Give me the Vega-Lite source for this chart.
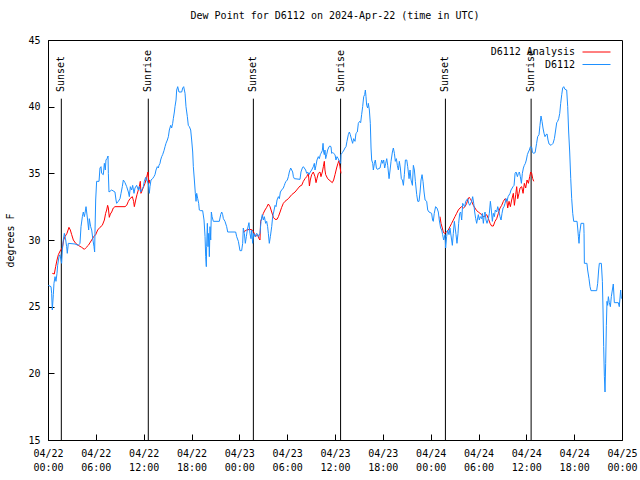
{
"$schema": "https://vega.github.io/schema/vega-lite/v6.json",
"width": 574, "height": 400,
"autosize": {"type": "none"},
"padding": {"left": 48, "top": 40, "right": 18, "bottom": 40},
"background": "white",
"config": {
 "font": "DejaVu Sans Mono",
 "view": {"stroke": "black", "strokeWidth": 1},
 "axis": {"grid": false, "domainColor": "black", "tickColor": "black", "labelColor": "black", "titleColor": "black", "labelFont": "DejaVu Sans Mono", "titleFont": "DejaVu Sans Mono", "labelFontSize": 10, "titleFontSize": 10, "titleFontWeight": "normal", "labelLineHeight": 14},
 "legend": {"orient": "none", "legendX": 534, "symbolType": "stroke", "symbolSize": 784, "symbolStrokeWidth": 1, "labelAlign": "right", "labelOffset": -36, "labelFontSize": 10, "labelFont": "DejaVu Sans Mono", "labelColor": "black", "padding": 0}
},
"title": {"text": "Dew Point for D6112 on 2024-Apr-22 (time in UTC)", "font": "DejaVu Sans Mono", "fontSize": 10, "fontWeight": "normal", "color": "black", "offset": 14, "anchor": "middle"},
"datasets": {
 "sun": [
  {"h": 1.67, "label": "Sunset"}, {"h": 12.58, "label": "Sunrise"},
  {"h": 25.76, "label": "Sunset"}, {"h": 36.7, "label": "Sunrise"},
  {"h": 49.85, "label": "Sunset"}, {"h": 60.6, "label": "Sunrise"}
 ],
 "analysis": [
  {"s":1,"h":0.54,"v":27.5},{"s":1,"h":0.79,"v":27.45},{"s":1,"h":0.96,"v":28.0},{"s":1,"h":1.13,"v":28.5},{"s":1,"h":1.3,"v":28.9},{"s":1,"h":1.46,"v":29.1},{"s":1,"h":1.63,"v":29.3},{"s":1,"h":1.8,"v":29.4},{"s":1,"h":1.96,"v":30.0},{"s":1,"h":2.13,"v":30.25},{"s":1,"h":2.38,"v":30.5},{"s":1,"h":2.63,"v":30.95},{"s":1,"h":2.8,"v":30.75},{"s":1,"h":2.97,"v":30.4},{"s":1,"h":3.18,"v":30.0},{"s":1,"h":3.47,"v":29.75},{"s":1,"h":3.8,"v":29.6},{"s":1,"h":4.22,"v":29.45},{"s":1,"h":4.56,"v":29.3},{"s":1,"h":4.72,"v":29.4},{"s":1,"h":5.06,"v":29.6},{"s":1,"h":5.48,"v":30.0},{"s":1,"h":5.73,"v":30.25},{"s":1,"h":5.98,"v":30.4},{"s":1,"h":6.23,"v":30.75},{"s":1,"h":6.52,"v":30.95},{"s":1,"h":6.81,"v":31.1},{"s":1,"h":7.07,"v":31.5},{"s":1,"h":7.23,"v":32.0},{"s":1,"h":7.36,"v":32.25},{"s":1,"h":7.48,"v":32.6},{"s":1,"h":7.57,"v":32.4},{"s":1,"h":7.69,"v":31.7},{"s":1,"h":7.82,"v":31.95},{"s":1,"h":7.99,"v":32.1},{"s":1,"h":8.19,"v":32.4},{"s":1,"h":8.4,"v":32.5},{"s":1,"h":9.66,"v":32.5},{"s":1,"h":9.87,"v":32.6},{"s":1,"h":10.08,"v":32.9},{"s":1,"h":10.28,"v":33.1},{"s":1,"h":10.58,"v":33.25},{"s":1,"h":10.74,"v":32.9},{"s":1,"h":10.83,"v":32.5},{"s":1,"h":11.0,"v":33.0},{"s":1,"h":11.16,"v":33.4},{"s":1,"h":11.33,"v":33.75},{"s":1,"h":11.45,"v":34.0},{"s":1,"h":11.58,"v":34.4},{"s":1,"h":11.66,"v":33.5},{"s":1,"h":11.83,"v":33.75},{"s":1,"h":12.0,"v":34.0},{"s":1,"h":12.17,"v":34.25},{"s":1,"h":12.37,"v":34.7},{"s":1,"h":12.54,"v":35.1},{"s":1,"h":12.67,"v":34.25},{"s":1,"h":12.75,"v":34.5},
  {"s":2,"h":24.5,"v":30.6},{"s":2,"h":24.92,"v":30.75},{"s":2,"h":25.33,"v":30.8},{"s":2,"h":25.63,"v":30.75},{"s":2,"h":25.88,"v":30.5},{"s":2,"h":26.05,"v":30.25},{"s":2,"h":26.3,"v":30.4},{"s":2,"h":26.47,"v":30.1},{"s":2,"h":26.59,"v":30.0},{"s":2,"h":26.67,"v":31.4},{"s":2,"h":26.8,"v":31.6},{"s":2,"h":27.01,"v":32.0},{"s":2,"h":27.22,"v":32.25},{"s":2,"h":27.43,"v":32.45},{"s":2,"h":27.64,"v":32.7},{"s":2,"h":27.85,"v":32.5},{"s":2,"h":28.06,"v":32.1},{"s":2,"h":28.27,"v":31.7},{"s":2,"h":28.48,"v":31.55},{"s":2,"h":28.73,"v":31.55},{"s":2,"h":28.9,"v":31.75},{"s":2,"h":29.11,"v":32.1},{"s":2,"h":29.31,"v":32.45},{"s":2,"h":29.52,"v":32.75},{"s":2,"h":29.73,"v":32.9},{"s":2,"h":30.15,"v":33.1},{"s":2,"h":30.57,"v":33.4},{"s":2,"h":30.99,"v":33.6},{"s":2,"h":31.4,"v":33.9},{"s":2,"h":31.61,"v":34.05},{"s":2,"h":31.82,"v":34.1},{"s":2,"h":32.03,"v":34.4},{"s":2,"h":32.24,"v":34.6},{"s":2,"h":32.45,"v":34.75},{"s":2,"h":32.66,"v":35.0},{"s":2,"h":32.79,"v":34.05},{"s":2,"h":32.9,"v":34.5},{"s":2,"h":33.07,"v":34.9},{"s":2,"h":33.28,"v":35.1},{"s":2,"h":33.49,"v":34.75},{"s":2,"h":33.62,"v":34.3},{"s":2,"h":33.74,"v":34.6},{"s":2,"h":33.91,"v":35.0},{"s":2,"h":34.12,"v":35.1},{"s":2,"h":34.24,"v":34.75},{"s":2,"h":34.41,"v":35.1},{"s":2,"h":34.54,"v":35.5},{"s":2,"h":34.66,"v":35.9},{"s":2,"h":34.74,"v":35.25},{"s":2,"h":34.83,"v":34.9},{"s":2,"h":35.08,"v":34.6},{"s":2,"h":35.37,"v":34.45},{"s":2,"h":35.66,"v":34.3},{"s":2,"h":35.83,"v":34.5},{"s":2,"h":36.0,"v":34.9},{"s":2,"h":36.2,"v":35.4},{"s":2,"h":36.37,"v":35.75},{"s":2,"h":36.5,"v":35.95},{"s":2,"h":36.62,"v":35.5},{"s":2,"h":36.75,"v":35.0},
  {"s":3,"h":49.17,"v":31.75},{"s":3,"h":49.3,"v":31.25},{"s":3,"h":49.46,"v":30.9},{"s":3,"h":49.59,"v":30.6},{"s":3,"h":49.71,"v":30.5},{"s":3,"h":50.0,"v":30.6},{"s":3,"h":50.21,"v":30.75},{"s":3,"h":50.42,"v":31.0},{"s":3,"h":50.63,"v":31.25},{"s":3,"h":50.84,"v":31.5},{"s":3,"h":51.05,"v":31.75},{"s":3,"h":51.26,"v":32.0},{"s":3,"h":51.47,"v":32.25},{"s":3,"h":51.68,"v":32.4},{"s":3,"h":51.89,"v":32.5},{"s":3,"h":52.1,"v":32.4},{"s":3,"h":52.31,"v":32.5},{"s":3,"h":52.52,"v":32.75},{"s":3,"h":52.64,"v":33.0},{"s":3,"h":52.81,"v":33.2},{"s":3,"h":52.98,"v":33.1},{"s":3,"h":53.14,"v":32.9},{"s":3,"h":53.35,"v":32.6},{"s":3,"h":53.56,"v":32.4},{"s":3,"h":53.77,"v":32.2},{"s":3,"h":53.98,"v":32.1},{"s":3,"h":54.19,"v":32.0},{"s":3,"h":54.4,"v":31.9},{"s":3,"h":54.61,"v":31.75},{"s":3,"h":54.82,"v":31.8},{"s":3,"h":55.03,"v":31.9},{"s":3,"h":55.24,"v":31.6},{"s":3,"h":55.45,"v":31.25},{"s":3,"h":55.65,"v":31.05},{"s":3,"h":55.86,"v":31.05},{"s":3,"h":56.07,"v":31.4},{"s":3,"h":56.28,"v":31.6},{"s":3,"h":56.49,"v":32.0},{"s":3,"h":56.7,"v":32.4},{"s":3,"h":56.91,"v":32.6},{"s":3,"h":57.12,"v":32.9},{"s":3,"h":57.33,"v":33.1},{"s":3,"h":57.54,"v":33.0},{"s":3,"h":57.66,"v":32.4},{"s":3,"h":57.83,"v":32.9},{"s":3,"h":58.0,"v":32.5},{"s":3,"h":58.16,"v":33.0},{"s":3,"h":58.37,"v":33.5},{"s":3,"h":58.5,"v":32.6},{"s":3,"h":58.67,"v":33.4},{"s":3,"h":58.79,"v":34.0},{"s":3,"h":58.92,"v":33.1},{"s":3,"h":59.08,"v":33.5},{"s":3,"h":59.21,"v":33.9},{"s":3,"h":59.42,"v":34.0},{"s":3,"h":59.59,"v":33.5},{"s":3,"h":59.75,"v":34.25},{"s":3,"h":59.92,"v":33.9},{"s":3,"h":60.09,"v":34.5},{"s":3,"h":60.26,"v":34.25},{"s":3,"h":60.42,"v":34.75},{"s":3,"h":60.55,"v":35.1},{"s":3,"h":60.67,"v":35.0},{"s":3,"h":60.8,"v":34.6},{"s":3,"h":60.93,"v":34.4}
 ],
 "obs": [
  {"h":0.04,"v":26.6},{"h":0.38,"v":26.5},{"h":0.46,"v":26.0},{"h":0.54,"v":24.75},{"h":0.67,"v":25.9},{"h":0.75,"v":26.75},{"h":0.88,"v":27.25},{"h":1.0,"v":26.9},{"h":1.13,"v":27.5},{"h":1.21,"v":28.1},{"h":1.38,"v":28.75},{"h":1.5,"v":28.9},{"h":1.71,"v":28.25},{"h":1.8,"v":29.25},{"h":1.92,"v":30.0},{"h":2.05,"v":30.5},{"h":2.22,"v":30.0},{"h":2.34,"v":29.5},{"h":2.42,"v":29.0},{"h":2.55,"v":29.75},{"h":3.39,"v":29.7},{"h":3.8,"v":29.6},{"h":4.01,"v":29.75},{"h":4.14,"v":31.0},{"h":4.31,"v":31.75},{"h":4.43,"v":32.1},{"h":4.56,"v":31.75},{"h":4.64,"v":32.0},{"h":4.77,"v":32.5},{"h":4.85,"v":32.1},{"h":4.97,"v":31.5},{"h":5.1,"v":30.75},{"h":5.18,"v":31.6},{"h":5.35,"v":31.0},{"h":5.48,"v":30.75},{"h":5.64,"v":30.0},{"h":5.77,"v":29.5},{"h":5.85,"v":29.1},{"h":5.89,"v":30.5},{"h":5.98,"v":33.0},{"h":6.1,"v":34.4},{"h":6.4,"v":34.4},{"h":6.52,"v":35.4},{"h":6.65,"v":35.5},{"h":6.73,"v":35.0},{"h":6.94,"v":34.9},{"h":7.07,"v":35.75},{"h":7.19,"v":35.25},{"h":7.27,"v":36.0},{"h":7.4,"v":36.1},{"h":7.53,"v":36.3},{"h":7.57,"v":35.0},{"h":7.65,"v":33.6},{"h":7.99,"v":33.75},{"h":8.4,"v":33.6},{"h":8.53,"v":33.0},{"h":8.61,"v":32.75},{"h":8.82,"v":32.9},{"h":9.03,"v":33.1},{"h":9.16,"v":33.5},{"h":9.32,"v":34.0},{"h":9.45,"v":34.5},{"h":9.66,"v":34.3},{"h":9.87,"v":34.0},{"h":10.08,"v":33.6},{"h":10.2,"v":33.25},{"h":10.33,"v":34.0},{"h":10.49,"v":33.75},{"h":10.62,"v":34.1},{"h":10.79,"v":33.5},{"h":10.91,"v":33.9},{"h":11.12,"v":34.1},{"h":11.33,"v":33.75},{"h":11.45,"v":34.0},{"h":11.62,"v":33.6},{"h":11.75,"v":33.75},{"h":11.96,"v":34.0},{"h":12.08,"v":34.4},{"h":12.25,"v":34.7},{"h":12.37,"v":34.5},{"h":12.58,"v":34.25},
  {"h":12.71,"v":33.5},{"h":12.79,"v":34.0},{"h":12.92,"v":34.5},{"h":13.12,"v":34.6},{"h":13.29,"v":34.75},{"h":13.42,"v":34.9},{"h":13.55,"v":35.25},{"h":13.71,"v":35.5},{"h":13.84,"v":35.4},{"h":13.92,"v":35.6},{"h":14.05,"v":35.75},{"h":14.13,"v":36.0},{"h":14.26,"v":36.25},{"h":14.38,"v":36.4},{"h":14.55,"v":36.7},{"h":14.68,"v":37.0},{"h":14.8,"v":37.25},{"h":14.97,"v":37.5},{"h":15.1,"v":37.75},{"h":15.22,"v":38.25},{"h":15.39,"v":38.6},{"h":15.51,"v":38.4},{"h":15.64,"v":38.75},{"h":15.72,"v":39.1},{"h":15.85,"v":39.6},{"h":15.93,"v":40.0},{"h":16.06,"v":40.5},{"h":16.14,"v":41.25},{"h":16.27,"v":41.5},{"h":16.43,"v":41.1},{"h":16.77,"v":41.1},{"h":16.9,"v":41.4},{"h":17.02,"v":41.5},{"h":17.19,"v":41.0},{"h":17.31,"v":40.0},{"h":17.48,"v":39.25},{"h":17.6,"v":38.6},{"h":17.73,"v":38.5},{"h":17.9,"v":38.25},{"h":18.02,"v":37.5},{"h":18.15,"v":36.6},{"h":18.23,"v":35.5},{"h":18.36,"v":34.5},{"h":18.48,"v":33.5},{"h":18.57,"v":32.9},{"h":18.65,"v":33.5},{"h":18.78,"v":33.1},{"h":18.9,"v":32.75},{"h":18.98,"v":32.25},{"h":19.15,"v":32.2},{"h":19.4,"v":32.2},{"h":19.57,"v":31.5},{"h":19.7,"v":30.25},{"h":19.78,"v":28.75},{"h":19.86,"v":28.0},{"h":19.9,"v":29.5},{"h":19.99,"v":31.25},{"h":20.07,"v":29.5},{"h":20.16,"v":30.5},{"h":20.24,"v":28.75},{"h":20.32,"v":31.0},{"h":20.41,"v":30.0},{"h":20.49,"v":32.1},{"h":20.58,"v":31.75},{"h":20.74,"v":31.4},{"h":21.49,"v":31.4},{"h":21.66,"v":31.9},{"h":21.79,"v":32.1},{"h":21.91,"v":31.9},{"h":22.0,"v":31.6},{"h":22.2,"v":31.4},{"h":22.41,"v":31.0},{"h":22.54,"v":30.6},{"h":23.54,"v":30.6},{"h":23.67,"v":30.25},
  {"h":23.88,"v":29.9},{"h":24.08,"v":29.2},{"h":24.29,"v":29.2},{"h":24.42,"v":29.75},{"h":24.5,"v":30.9},{"h":24.63,"v":30.5},{"h":24.75,"v":29.75},{"h":24.88,"v":30.25},{"h":25.0,"v":30.75},{"h":25.21,"v":31.3},{"h":25.33,"v":30.5},{"h":25.46,"v":30.1},{"h":25.55,"v":30.75},{"h":25.67,"v":29.75},{"h":25.8,"v":30.5},{"h":25.97,"v":30.25},{"h":26.18,"v":30.5},{"h":26.38,"v":30.25},{"h":26.59,"v":30.5},{"h":26.72,"v":31.4},{"h":26.88,"v":31.9},{"h":27.01,"v":31.5},{"h":27.14,"v":31.75},{"h":27.3,"v":31.25},{"h":27.43,"v":31.4},{"h":27.55,"v":31.0},{"h":27.64,"v":30.5},{"h":27.76,"v":29.75},{"h":27.89,"v":30.25},{"h":28.06,"v":31.0},{"h":28.18,"v":31.75},{"h":28.31,"v":32.1},{"h":28.48,"v":32.6},{"h":28.6,"v":32.5},{"h":28.73,"v":33.0},{"h":28.9,"v":33.25},{"h":29.02,"v":33.1},{"h":29.15,"v":33.6},{"h":29.31,"v":33.75},{"h":29.52,"v":33.9},{"h":29.65,"v":34.1},{"h":29.73,"v":34.25},{"h":29.86,"v":34.4},{"h":30.02,"v":34.5},{"h":30.15,"v":34.75},{"h":30.27,"v":35.1},{"h":30.44,"v":35.4},{"h":30.57,"v":35.25},{"h":30.69,"v":35.1},{"h":30.78,"v":34.75},{"h":30.9,"v":34.6},{"h":31.61,"v":34.55},{"h":31.73,"v":35.1},{"h":31.9,"v":35.4},{"h":32.03,"v":35.5},{"h":32.15,"v":35.4},{"h":32.32,"v":35.25},{"h":32.45,"v":35.0},{"h":32.57,"v":35.1},{"h":32.74,"v":34.9},{"h":32.9,"v":35.1},{"h":33.07,"v":35.25},{"h":33.28,"v":35.5},{"h":33.41,"v":35.75},{"h":33.49,"v":35.25},{"h":33.62,"v":35.6},{"h":33.74,"v":36.0},{"h":33.91,"v":36.25},{"h":34.03,"v":36.1},{"h":34.16,"v":36.4},{"h":34.24,"v":36.5},{"h":34.41,"v":36.7},{"h":34.5,"v":37.25},{"h":34.58,"v":36.6},{"h":34.66,"v":36.4},{"h":34.74,"v":36.75},{"h":34.83,"v":36.1},{"h":34.95,"v":36.4},{"h":35.08,"v":36.75},{"h":35.25,"v":37.0},{"h":35.37,"v":37.05},{"h":35.5,"v":37.0},{"h":35.58,"v":36.5},{"h":35.7,"v":36.55},{"h":35.83,"v":36.5},{"h":36.0,"v":36.4},{"h":36.12,"v":36.0},{"h":36.25,"v":36.25},{"h":36.41,"v":36.1},{"h":36.54,"v":35.9},{"h":36.71,"v":35.75},
  {"h":36.75,"v":36.4},{"h":36.92,"v":36.55},{"h":37.13,"v":36.75},{"h":37.25,"v":36.9},{"h":37.38,"v":37.0},{"h":37.5,"v":37.4},{"h":37.67,"v":37.9},{"h":37.8,"v":38.1},{"h":37.92,"v":37.9},{"h":38.09,"v":37.5},{"h":38.21,"v":37.25},{"h":38.34,"v":37.6},{"h":38.51,"v":37.4},{"h":38.63,"v":38.0},{"h":38.8,"v":38.1},{"h":38.93,"v":38.75},{"h":39.09,"v":38.9},{"h":39.22,"v":38.8},{"h":39.34,"v":39.4},{"h":39.47,"v":40.0},{"h":39.6,"v":40.75},{"h":39.72,"v":40.9},{"h":39.81,"v":41.25},{"h":39.89,"v":40.75},{"h":39.97,"v":40.1},{"h":40.1,"v":39.9},{"h":40.18,"v":40.25},{"h":40.31,"v":39.75},{"h":40.43,"v":38.75},{"h":40.52,"v":36.9},{"h":40.6,"v":36.0},{"h":40.73,"v":35.75},{"h":40.81,"v":35.25},{"h":40.94,"v":35.75},{"h":41.06,"v":36.0},{"h":41.19,"v":35.4},{"h":41.31,"v":35.3},{"h":41.65,"v":35.4},{"h":41.86,"v":36.0},{"h":41.98,"v":35.75},{"h":42.11,"v":36.0},{"h":42.23,"v":35.4},{"h":42.36,"v":35.75},{"h":42.49,"v":36.1},{"h":42.61,"v":35.6},{"h":42.78,"v":34.6},{"h":42.91,"v":35.25},{"h":43.03,"v":35.9},{"h":43.2,"v":36.6},{"h":43.32,"v":36.9},{"h":43.45,"v":36.5},{"h":43.57,"v":35.9},{"h":43.7,"v":36.1},{"h":43.82,"v":35.6},{"h":43.95,"v":35.25},{"h":44.07,"v":35.9},{"h":44.2,"v":35.4},{"h":44.32,"v":34.6},{"h":44.45,"v":34.5},{"h":44.58,"v":34.1},{"h":44.7,"v":34.9},{"h":44.83,"v":36.0},{"h":45.0,"v":36.0},{"h":45.12,"v":35.5},{"h":45.29,"v":34.6},{"h":45.41,"v":35.25},{"h":45.54,"v":34.5},{"h":45.71,"v":34.1},{"h":45.83,"v":35.6},{"h":45.96,"v":35.25},{"h":46.08,"v":34.4},{"h":46.25,"v":33.4},{"h":46.38,"v":32.9},{"h":46.54,"v":32.9},{"h":46.67,"v":33.6},{"h":46.79,"v":34.5},{"h":46.92,"v":34.9},{"h":47.04,"v":34.4},{"h":47.17,"v":33.6},{"h":47.3,"v":33.0},
  {"h":47.5,"v":32.9},{"h":47.63,"v":32.25},{"h":47.79,"v":32.1},{"h":48.12,"v":32.0},{"h":48.24,"v":31.5},{"h":48.33,"v":31.4},{"h":48.45,"v":32.0},{"h":48.62,"v":32.5},{"h":48.79,"v":32.4},{"h":48.96,"v":32.1},{"h":49.08,"v":31.5},{"h":49.25,"v":30.9},{"h":49.38,"v":30.75},{"h":49.5,"v":30.4},{"h":49.63,"v":30.0},{"h":49.8,"v":30.4},{"h":49.88,"v":29.4},{"h":50.0,"v":30.25},{"h":50.13,"v":30.75},{"h":50.3,"v":30.4},{"h":50.42,"v":30.9},{"h":50.63,"v":30.0},{"h":50.72,"v":29.6},{"h":50.84,"v":30.5},{"h":50.97,"v":31.4},{"h":51.18,"v":30.4},{"h":51.3,"v":29.75},{"h":51.43,"v":30.5},{"h":51.51,"v":31.25},{"h":51.64,"v":32.0},{"h":51.76,"v":32.1},{"h":51.89,"v":31.5},{"h":52.02,"v":32.75},{"h":52.14,"v":32.6},{"h":52.27,"v":32.5},{"h":52.39,"v":32.9},{"h":52.52,"v":33.0},{"h":52.64,"v":33.1},{"h":52.77,"v":32.75},{"h":52.9,"v":32.6},{"h":53.14,"v":32.9},{"h":53.27,"v":33.25},{"h":53.4,"v":32.75},{"h":53.52,"v":32.1},{"h":53.65,"v":31.6},{"h":53.77,"v":31.25},{"h":53.98,"v":31.9},{"h":54.1,"v":31.5},{"h":54.23,"v":31.75},{"h":54.4,"v":31.6},{"h":54.48,"v":32.0},{"h":54.61,"v":31.25},{"h":54.73,"v":31.9},{"h":54.82,"v":32.1},{"h":54.94,"v":31.5},{"h":55.07,"v":31.25},{"h":55.24,"v":31.6},{"h":55.36,"v":32.0},{"h":55.49,"v":32.9},{"h":55.61,"v":32.25},{"h":55.74,"v":31.4},{"h":55.86,"v":32.0},{"h":55.99,"v":31.75},{"h":56.11,"v":32.25},{"h":56.28,"v":32.1},{"h":56.41,"v":32.5},{"h":56.53,"v":32.25},{"h":56.7,"v":31.75},{"h":56.83,"v":31.5},{"h":56.95,"v":32.0},{"h":57.08,"v":32.4},{"h":57.2,"v":32.5},{"h":57.33,"v":32.75},{"h":57.46,"v":33.1},{"h":57.58,"v":32.9},{"h":57.71,"v":33.25},{"h":57.96,"v":33.5},{"h":58.08,"v":33.75},{"h":58.33,"v":34.0},{"h":58.46,"v":34.1},{"h":58.59,"v":35.0},{"h":58.71,"v":35.1},{"h":58.88,"v":34.75},{"h":59.0,"v":35.0},{"h":59.13,"v":35.1},{"h":59.25,"v":34.75},{"h":59.38,"v":34.25},{"h":59.5,"v":35.0},{"h":59.63,"v":35.4},{"h":59.75,"v":35.6},{"h":59.88,"v":35.75},{"h":60.0,"v":36.0},{"h":60.13,"v":36.4},{"h":60.26,"v":36.6},{"h":60.38,"v":36.75},{"h":60.51,"v":37.0},{"h":60.68,"v":36.95},{"h":60.76,"v":36.6},{"h":60.89,"v":36.5},{"h":61.1,"v":36.55},
  {"h":61.29,"v":37.25},{"h":61.42,"v":37.75},{"h":61.59,"v":37.9},{"h":61.71,"v":38.6},{"h":61.84,"v":39.3},{"h":61.97,"v":38.9},{"h":62.09,"v":38.4},{"h":62.22,"v":38.0},{"h":62.34,"v":37.75},{"h":62.47,"v":37.9},{"h":62.6,"v":37.95},{"h":62.72,"v":37.5},{"h":62.85,"v":37.2},{"h":63.1,"v":37.1},{"h":63.35,"v":37.25},{"h":63.52,"v":37.6},{"h":63.68,"v":38.25},{"h":63.81,"v":38.8},{"h":63.93,"v":38.9},{"h":64.06,"v":39.1},{"h":64.19,"v":39.5},{"h":64.31,"v":40.25},{"h":64.44,"v":40.9},{"h":64.56,"v":41.4},{"h":64.69,"v":41.5},{"h":64.85,"v":41.3},{"h":65.06,"v":41.25},{"h":65.19,"v":40.0},{"h":65.31,"v":38.1},{"h":65.44,"v":36.6},{"h":65.57,"v":34.6},{"h":65.69,"v":33.1},{"h":65.82,"v":32.0},{"h":65.94,"v":31.4},{"h":66.36,"v":31.4},{"h":66.44,"v":30.9},{"h":66.53,"v":30.25},{"h":66.61,"v":29.75},{"h":66.69,"v":30.5},{"h":66.86,"v":31.25},{"h":67.2,"v":31.25},{"h":67.24,"v":30.5},{"h":67.28,"v":28.25},{"h":67.6,"v":28.25},{"h":67.69,"v":27.75},{"h":67.86,"v":27.1},{"h":67.99,"v":26.5},{"h":68.11,"v":26.2},{"h":68.82,"v":26.2},{"h":68.95,"v":26.75},{"h":69.07,"v":27.75},{"h":69.16,"v":28.25},{"h":69.41,"v":28.25},{"h":69.54,"v":26.9},{"h":69.62,"v":24.75},{"h":69.7,"v":22.0},{"h":69.79,"v":19.75},{"h":69.87,"v":18.6},{"h":69.95,"v":20.75},{"h":70.04,"v":23.6},{"h":70.12,"v":25.4},{"h":70.2,"v":25.1},{"h":70.29,"v":25.75},{"h":70.41,"v":25.3},{"h":70.54,"v":25.0},{"h":70.66,"v":25.75},{"h":70.79,"v":26.25},{"h":70.91,"v":26.7},{"h":71.04,"v":25.3},{"h":71.54,"v":25.3},{"h":71.66,"v":25.0},{"h":71.83,"v":26.25},{"h":71.92,"v":25.6}
 ]
},
"layer": [
 {
  "data": {"name": "sun"},
  "mark": {"type": "rule", "color": "black", "strokeWidth": 1},
  "encoding": {
   "x": {"field": "h", "type": "quantitative", "scale": {"domain": [0, 72], "nice": false, "zero": false},
         "axis": {"values": [0,6,12,18,24,30,36,42,48,54,60,66,72], "labelExpr": "['04/' + (22 + floor(datum.value/24)), ((datum.value % 24) < 10 ? '0' : '') + (datum.value % 24) + ':00']", "tickSize": -6, "labelPadding": 14, "labelFlush": false, "labelOverlap": false, "title": null}},
   "y": {"datum": 40.6, "type": "quantitative", "scale": {"domain": [15, 45], "nice": false, "zero": false},
         "axis": {"values": [15,20,25,30,35,40,45], "tickSize": -6, "labelPadding": 14, "title": "degrees F", "titlePadding": 12}},
   "y2": {"datum": 15}
  }
 },
 {
  "data": {"name": "sun"},
  "mark": {"type": "text", "angle": 270, "align": "left", "baseline": "middle", "font": "DejaVu Sans Mono", "fontSize": 10, "color": "black"},
  "encoding": {
   "x": {"field": "h", "type": "quantitative"},
   "y": {"datum": 41.1, "type": "quantitative"},
   "text": {"field": "label"}
  }
 },
 {
  "data": {"name": "analysis"},
  "mark": {"type": "line", "strokeWidth": 1, "interpolate": "linear"},
  "encoding": {
   "x": {"field": "h", "type": "quantitative"},
   "y": {"field": "v", "type": "quantitative"},
   "detail": {"field": "s", "type": "nominal"},
   "color": {"datum": "D6112 Analysis", "type": "nominal", "scale": {"domain": ["D6112 Analysis"], "range": ["#ff0000"]}, "legend": {"title": null, "legendY": -2.5, "symbolStrokeColor": "#ff0000"}}
  }
 },
 {
  "data": {"name": "obs"},
  "mark": {"type": "line", "strokeWidth": 1, "interpolate": "linear"},
  "encoding": {
   "x": {"field": "h", "type": "quantitative"},
   "y": {"field": "v", "type": "quantitative"},
   "color": {"datum": "D6112", "type": "nominal", "scale": {"domain": ["D6112"], "range": ["#1e90ff"]}, "legend": {"title": null, "legendY": 10}}
  }
 }
],
"resolve": {"scale": {"color": "independent"}, "legend": {"color": "independent"}}
}
